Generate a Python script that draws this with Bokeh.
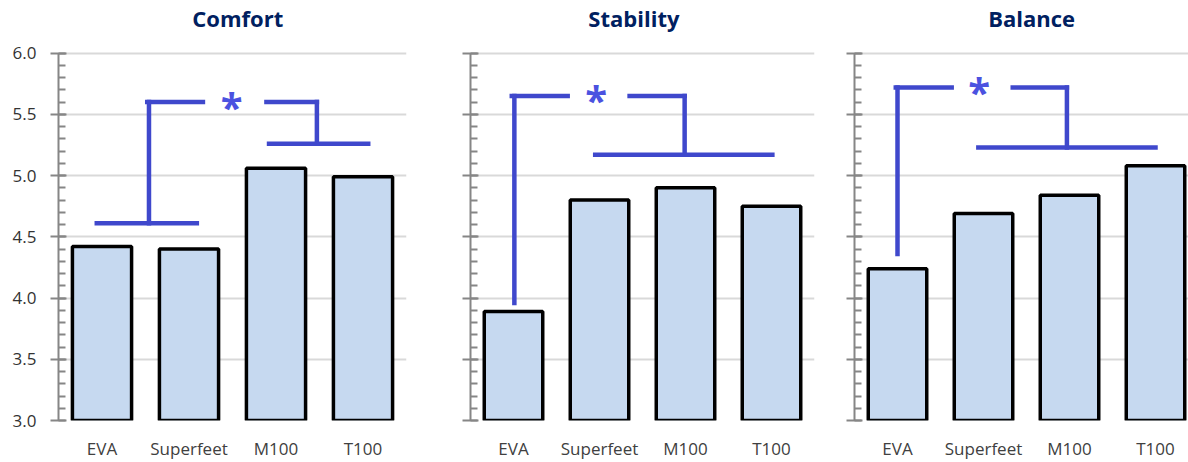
from bokeh.plotting import figure
from bokeh.layouts import row
from bokeh.models import (FixedTicker, NumeralTickFormatter, CustomJSTickFormatter)
from bokeh.core.properties import value
from bokeh.embed import file_html
from bokeh.resources import INLINE

# Mean scores per insole, one panel per rating
insoles = ["EVA", "Superfeet", "M100", "T100"]
comfort = [4.42, 4.40, 5.06, 4.99]
stability = [3.89, 4.80, 4.90, 4.75]
balance = [4.24, 4.69, 4.84, 5.08]
titles = ["Comfort", "Stability", "Balance"]
y_ticks = [3.0, 3.5, 4.0, 4.5, 5.0, 5.5, 6.0]
y_minor = [round(3.0 + 0.1 * i, 1) for i in range(31)]

# Significance brackets: (x0, x1, y0, y1) segments in category/score units
comfort_bracket = [
    (1.02, 1.66, 5.60, 5.60), (1.04, 1.04, 5.60, 4.61), (0.44, 1.59, 4.61, 4.61),
    (2.39, 2.97, 5.60, 5.60), (2.97, 2.97, 5.60, 5.26), (2.42, 3.56, 5.26, 5.26),
]
comfort_star = (1.99, 5.60)
stability_bracket = [
    (0.48, 1.13, 5.65, 5.65), (0.51, 0.51, 5.65, 3.96),
    (1.85, 2.49, 5.65, 5.65), (2.49, 2.49, 5.65, 5.17), (1.45, 3.51, 5.17, 5.17),
]
stability_star = (1.46, 5.65)
balance_bracket = [
    (0.48, 1.13, 5.72, 5.72), (0.50, 0.50, 5.72, 4.36),
    (1.84, 2.47, 5.72, 5.72), (2.47, 2.47, 5.72, 5.23), (1.44, 3.50, 5.23, 5.23),
]
balance_star = (1.45, 5.72)

FONT = "Open Sans"
BAR_FILL = "#c6d9f0"
BRACKET = "#3f48cc"
AXIS_GRAY = "#868686"

# vertical layout (pixels): score axis spans 370 px, the heading sits 35 px above it
HEIGHT, BOTTOM, AXIS_PX, TOP_GAP, TITLE_GAP = 462, 39, 370, 53, 35
per_px = (6.0 - 3.0) / AXIS_PX
Y_END = 6.0 + TOP_GAP * per_px
TITLE_Y = 6.0 + TITLE_GAP * per_px


def panel(title, title_x, scores, bracket, star, width, left, right, x_end,
          show_labels):
    p = figure(width=width, height=HEIGHT, x_range=(0, x_end), y_range=(3.0, Y_END),
               output_backend="svg", toolbar_location=None,
               min_border_left=left, min_border_right=right,
               min_border_top=0, min_border_bottom=BOTTOM)
    p.outline_line_color = None
    p.background_fill_color = "white"
    p.border_fill_color = "white"

    # panel heading
    p.text(x=[title_x], y=[TITLE_Y], text=[title], text_font=value(FONT),
           text_font_style="bold", text_font_size="22px", text_color="#002060",
           text_align="center", text_baseline="middle")

    centers = [i + 0.5 for i in range(len(insoles))]
    p.vbar(x=centers, top=scores, bottom=3.0, width=0.68,
           fill_color=BAR_FILL, line_color="black", line_width=3.5)

    x0 = [s[0] for s in bracket]
    x1 = [s[1] for s in bracket]
    y0 = [s[2] for s in bracket]
    y1 = [s[3] for s in bracket]
    p.segment(x0=x0, y0=y0, x1=x1, y1=y1, line_color=BRACKET, line_width=4.5,
              line_cap="square")
    p.text(x=[star[0]], y=[star[1]], text=["*"], text_font=value(FONT),
           text_font_size="40px", text_font_style="bold", text_color="#4b52e0",
           text_align="center", text_baseline="middle", y_offset=4)

    # x axis: category names only
    xa = p.xaxis[0]
    xa.ticker = FixedTicker(ticks=centers)
    xa.major_label_overrides = {c: n for c, n in zip(centers, insoles)}
    xa.axis_line_color = None
    xa.major_tick_line_color = None
    xa.minor_tick_line_color = None
    xa.major_tick_out = 0
    xa.major_tick_in = 0
    xa.minor_tick_out = 0
    xa.minor_tick_in = 0
    xa.major_label_text_font = FONT
    xa.major_label_text_font_size = "17px"
    xa.major_label_text_color = "#404040"
    xa.major_label_standoff = 16

    # y axis limited to the 3.0 - 6.0 scale
    ya = p.yaxis[0]
    ya.bounds = (3.0, 6.0)
    ya.ticker = FixedTicker(ticks=y_ticks, minor_ticks=y_minor)
    ya.axis_line_color = AXIS_GRAY
    ya.axis_line_width = 2
    ya.major_tick_line_color = AXIS_GRAY
    ya.major_tick_line_width = 2
    ya.major_tick_out = 8
    ya.major_tick_in = 8
    ya.minor_tick_line_color = AXIS_GRAY
    ya.minor_tick_line_width = 2
    ya.minor_tick_out = 0
    ya.minor_tick_in = 7
    if show_labels:
        ya.formatter = NumeralTickFormatter(format="0.0")
        ya.major_label_text_font = FONT
        ya.major_label_text_font_size = "17px"
        ya.major_label_text_color = "#333333"
        ya.major_label_standoff = 14
    else:
        ya.formatter = CustomJSTickFormatter(code="return ''")

    p.xgrid.grid_line_color = None
    p.ygrid.ticker = FixedTicker(ticks=y_ticks)
    p.ygrid.grid_line_color = "#d9d9d9"
    p.ygrid.grid_line_width = 2
    return p


p1 = panel(titles[0], 2.06, comfort, comfort_bracket, comfort_star,
           420, 58, 14, 4.0, True)
p2 = panel(titles[1], 1.90, stability, stability_bracket, stability_star,
           400, 50, 6, 4.0, False)
p3 = panel(titles[2], 2.06, balance, balance_bracket, balance_star,
           368, 34, 0, 334 / 86, False)

layout = row(p1, p2, p3, spacing=0)
open("out.html", "w").write(file_html(layout, INLINE))
